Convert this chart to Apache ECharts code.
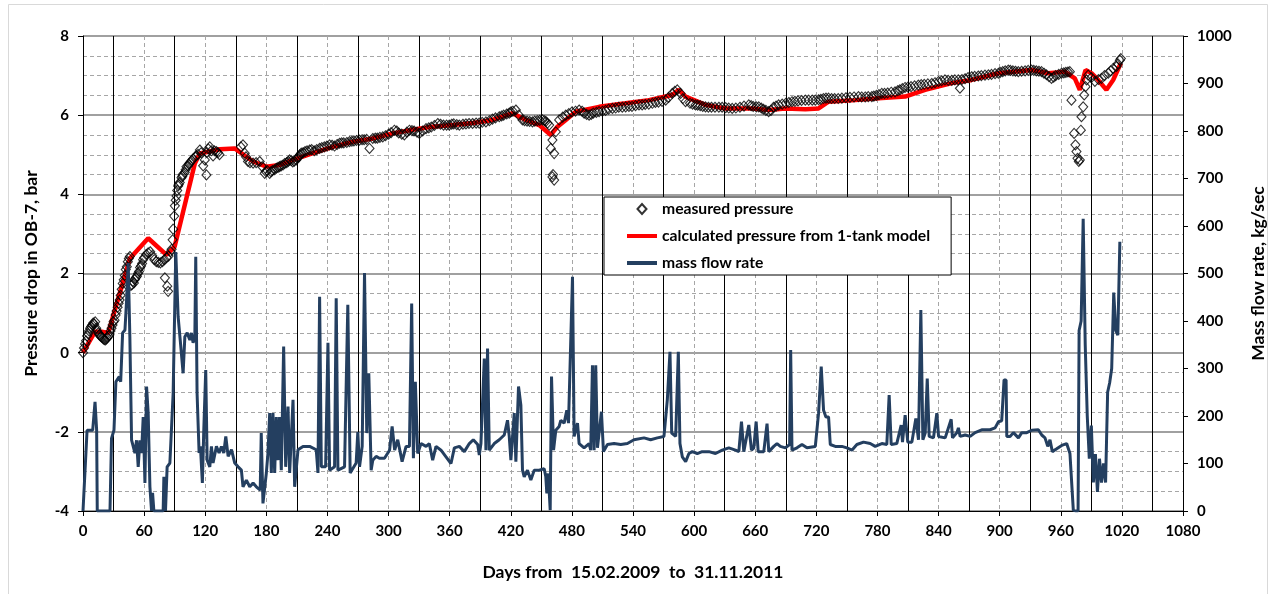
<!DOCTYPE html>
<html style="height: 100%">
<head>
<meta charset="utf-8">
<title>OB-7 pressure drop</title>
</head>
<body style="height: 100%; margin: 0; background: #fff">
<div id="container" style="width:1275px;height:594px"></div>
<script type="text/javascript" src="https://cdn.jsdelivr.net/npm/echarts@6/dist/echarts.min.js"></script>
<script type="text/javascript">
// [day, bar]
var measured = [
[0,0],[1,0.12],[2,0.22],[3,0.3],[4,0.42],[5,0.48],[6,0.55],[7,0.62],[8,0.66],[9,0.7],[10,0.75],[11,0.72],[12,0.78],
[13,0.62],[14,0.55],[15,0.5],[16,0.45],[17,0.42],[18,0.4],[19,0.38],[20,0.35],[21,0.33],[22,0.32],[23,0.35],[24,0.38],
[25,0.42],[26,0.45],[27,0.55],[28,0.62],[29,0.7],[30,0.78],[31,0.82],[32,0.95],[33,1.05],[34,1.15],[35,1.25],[36,1.33],
[37,1.45],[38,1.6],[39,1.75],[40,1.84],[41,1.95],[42,2.1],[43,2.17],[44,2.3],[45,2.38],[46,2.43],[47,1.7],[48,1.72],
[49,1.8],[50,1.76],[51,1.85],[52,1.9],[53,1.93],[54,2.0],[55,2.05],[56,2.15],[57,2.19],[58,2.25],[59,2.35],[60,2.4],
[62,2.48],[64,2.52],[66,2.55],[68,2.45],[70,2.35],[72,2.3],[74,2.28],[76,2.27],[78,2.3],[80,2.35],[80.4,1.89],[82,2.4],
[82.7,1.68],[83.6,1.55],[84,2.44],[86,2.55],[87,2.61],[88,2.85],[88.5,3.12],[89.5,3.45],[90.2,3.71],[91,3.85],[91.8,3.96],
[92.5,4.1],[93.4,4.21],[94,4.25],[95,4.3],[96.7,4.42],[97.5,4.46],[98,4.5],[99.9,4.55],[100.8,4.62],[101.6,4.7],
[103.2,4.72],[104,4.76],[105,4.8],[106.5,4.85],[108,4.89],[110,4.95],[111.5,4.98],[113,5.01],[114.7,5.12],[116,5.05],
[118,4.72],[119.6,4.87],[121.2,4.49],[121.5,5.06],[123,5.15],[124.5,5.2],[126,5.1],[127.7,4.97],[129,5.1],[131,5.08],
[132.5,5.05],[134,5.0],
[155,5.2],[157.1,5.25],[158.8,5.04],[160,4.95],[162,4.83],[164,4.8],[167,4.79],[170,4.8],[173.5,4.83],[176,4.7],
[178.4,4.53],[179.5,4.58],[181,4.6],[183.3,4.53],[184.5,4.57],[186,4.6],[188,4.62],[189.8,4.66],[191.5,4.68],[193,4.7],
[194.5,4.72],[196.4,4.74],[198,4.78],[200,4.8],[201.5,4.83],[202.9,4.87],[204.5,4.85],[206,4.82],[207.5,4.84],[209.4,4.87],
[210.5,4.92],[212,4.95],[213,5.0],[214.3,5.04],[216,5.05],[218,5.08],[220,5.1],[222.5,5.12],[224.5,5.13],[227,5.1],
[229.5,5.13],[232.3,5.16],[234.5,5.18],[237,5.2],[239.5,5.22],[242.1,5.25],[244.5,5.24],[247,5.22],[249.5,5.26],
[251.9,5.29],[254,5.3],[256,5.3],[259,5.31],[261.7,5.33],[264,5.34],[266,5.35],[268.5,5.36],[271.5,5.37],[274,5.38],
[276,5.38],[278.5,5.39],[281.3,5.16],[284.5,5.41],[287,5.42],[289,5.42],[291.5,5.44],[294.3,5.45],[297,5.48],[300,5.52],
[302.5,5.56],[305.7,5.62],[308,5.6],[310,5.55],[313,5.52],[315.5,5.5],[318,5.57],[320.5,5.62],[323,5.61],[325,5.6],
[328,5.57],[330.3,5.54],[333.5,5.6],[336.8,5.66],[339.5,5.68],[342,5.7],[345,5.74],[348.3,5.79],[351,5.77],[354,5.75],
[357,5.75],[359.6,5.75],[362,5.77],[364,5.78],[367,5.76],[369.5,5.75],[373,5.77],[376,5.78],[379,5.79],[382.5,5.79],
[386,5.8],[389,5.8],[392,5.82],[395.6,5.83],[399,5.86],[402,5.9],[405,5.93],[408.7,5.96],[411,5.98],[413,6.0],[416,6.03],
[418.5,6.05],[420,6.08],[422,6.1],[425,6.13],[428,6.0],[431.5,5.88],[433.5,5.86],[436,5.85],[438.5,5.84],[441.3,5.83],
[443.5,5.85],[446,5.86],[448.5,5.87],[451.1,5.88],[453,5.86],[454.4,5.84],[456,5.8],[457.7,5.75],[459.3,5.16],
[460.9,5.37],[460.9,4.44],[461.5,4.5],[462.6,4.36],[462.6,5.03],[464.2,5.58],[467.5,5.88],[471,5.95],[474,6.0],
[477,6.04],[480,6.08],[483.5,6.1],[487.1,6.13],[490,6.1],[492,6.05],[494.5,6.02],[496.9,6.0],[499,6.02],[501,6.05],
[504,6.07],[506.7,6.09],[510,6.1],[513,6.12],[516,6.15],[519.8,6.17],[523,6.18],[526,6.2],[529.5,6.2],[532.8,6.21],
[536,6.22],[539,6.22],[542.5,6.24],[545.9,6.26],[549,6.26],[552,6.27],[555.5,6.28],[559,6.3],[562,6.32],[565,6.33],
[568.5,6.35],[572.1,6.38],[575,6.45],[578.6,6.55],[581,6.6],[583.5,6.64],[586.7,6.55],[589,6.42],[591.6,6.34],[596,6.3],
[598.5,6.28],[601.4,6.26],[603.5,6.25],[606,6.24],[608.5,6.22],[611.2,6.21],[614,6.2],[617,6.2],[620.5,6.2],[624.3,6.2],
[627.5,6.2],[631,6.19],[634,6.18],[637.4,6.17],[641,6.18],[645,6.2],[649,6.23],[653.7,6.26],[656,6.24],[658,6.22],
[661,6.21],[663.5,6.21],[666,6.18],[668,6.15],[670.5,6.12],[673.2,6.09],[675.5,6.12],[678,6.2],[680.5,6.23],[683,6.26],
[686.5,6.28],[690,6.3],[693,6.32],[696.1,6.34],[699,6.35],[702,6.36],[705.5,6.37],[709.2,6.38],[712.5,6.38],[716,6.38],
[719,6.38],[722.2,6.39],[724.5,6.4],[727,6.42],[729.5,6.43],[732,6.43],[735,6.42],[738,6.42],[741.5,6.42],[745.1,6.43],
[749,6.44],[753,6.45],[757,6.46],[761.4,6.47],[764.5,6.46],[768,6.46],[771,6.47],[774.5,6.47],[776.5,6.48],[779,6.5],
[781.5,6.52],[784.3,6.55],[787,6.55],[790,6.56],[793.5,6.58],[797.3,6.59],[800,6.62],[802,6.64],[804.5,6.67],[807.1,6.7],
[810,6.71],[813,6.72],[816.5,6.74],[820.2,6.76],[823,6.77],[826,6.78],[829.5,6.79],[833.3,6.8],[836.5,6.82],[840,6.85],
[843,6.87],[846.3,6.89],[849.5,6.88],[853,6.88],[856,6.89],[859.4,6.89],[861,6.68],[863,6.9],[866,6.92],[869,6.95],
[872.5,6.97],[875.5,6.98],[879,6.99],[882,7.0],[885.6,7.01],[889,7.02],[892,7.03],[895.5,7.05],[898.7,7.06],[900.5,7.08],
[903,7.1],[905.5,7.12],[908.5,7.14],[910.5,7.13],[913,7.12],[915.5,7.11],[918.3,7.1],[921.5,7.11],[925,7.12],[928,7.13],
[931.3,7.14],[933.5,7.13],[936,7.12],[938.5,7.11],[941.1,7.1],[943.5,7.06],[946,7.02],[948.5,6.97],[950.9,6.93],
[953,6.96],[955,7.0],[958,7.03],[960.7,7.06],[963,7.07],[965,7.08],[967,7.09],[968.9,7.1],[970.5,6.38],[973.1,5.54],
[974.4,5.25],[975.4,5.08],[976.4,4.91],[977.7,4.83],[978.7,4.87],[979.7,5.62],[980.3,5.96],[982,6.21],[983,6.51],
[984.3,6.72],[985.3,6.89],[986.9,7.01],[990,6.95],[993.5,6.85],[997,6.9],[1000,6.93],[1003,7.0],[1006.6,7.06],
[1009,7.12],[1011.4,7.18],[1014.7,7.23],[1016,7.3],[1018,7.39],[1019,7.43]
];

// [day, bar]
var calculated = [
[0,0],[11.8,0.53],[18.3,0.53],[24.8,0.5],[46,2.38],[64,2.89],[82,2.47],[90,2.68],[109.8,4.78],[114.7,5.03],
[134.3,5.14],[149,5.16],[160.4,4.95],[167,4.83],[180,4.7],[193,4.74],[206.2,4.87],[225.8,5.04],[245.4,5.2],[265,5.33],
[284.5,5.41],[304.1,5.54],[323.7,5.63],[343.3,5.71],[362.9,5.75],[382.5,5.8],[402.1,5.88],[421.7,6.05],[434.8,5.88],
[447.9,5.75],[459.3,5.5],[465.8,5.71],[474,5.88],[483.8,6.09],[506.7,6.21],[532.8,6.3],[555.7,6.38],[578.5,6.51],
[585,6.64],[591.6,6.47],[611.2,6.26],[630.8,6.17],[656.9,6.17],[673.2,6.13],[689.6,6.17],[709.2,6.15],[722.2,6.17],
[732,6.34],[758.2,6.38],[781,6.43],[807.2,6.47],[826.8,6.64],[852.9,6.81],[872.5,6.89],[898.7,7.06],[931.3,7.14],
[947.6,7.06],[964,7.1],[973.8,6.93],[978.7,6.64],[984.3,7.14],[990.1,7.06],[996.7,6.89],[1004.8,6.64],[1011.4,6.89],
[1018.9,7.31]
];

// [day, kg/sec]
var massFlow = [
[0,0],[4,170],[9.5,170],[11.8,230],[13.4,170],[14,0],[26.5,0],[28,153],[30.4,170],[32.3,272],[35.6,283],[37,272],
[38.9,375],[41.2,381],[42.8,444],[44.4,522],[46,367],[47.7,149],[49.3,149],[51,122],[52.6,149],[54.2,93],[55.9,149],
[57.5,122],[59.1,198],[60.8,59],[62.4,262],[64,206],[65.7,51],[67.3,0],[68.3,38],[69.6,0],[78.7,0],[79.4,72],[81,0],
[82.6,93],[85.3,101],[88.5,248],[91.1,545],[93.4,409],[95.7,354],[98.3,290],[100,367],[102.3,375],[104.9,360],
[106.5,375],[108.1,354],[109.8,367],[110.7,535],[112,248],[114,122],[115.3,136],[117.2,59],[118.5,164],[120.5,297],
[121.9,107],[124.5,93],[126.1,136],[127.7,101],[131,136],[133.6,122],[135.9,136],[138.2,122],[140.2,157],[142.5,115],
[145.8,129],[149,101],[152.3,93],[155.5,86],[157.1,51],[160.4,65],[163.7,51],[167,59],[170.2,51],[174,44],[175,164],
[176.7,16],[180,80],[181.6,122],[183.3,206],[184.9,80],[186.5,206],[188.2,80],[189.8,198],[191.4,107],[193,198],
[194.7,86],[197,346],[199,93],[201.3,220],[202.9,80],[206.2,234],[207.8,51],[211.1,129],[216,136],[222.5,136],[229,129],
[230.7,80],[232.3,451],[234,93],[238.2,93],[240.5,354],[242.1,86],[247,93],[248.6,448],[250.3,86],[256.8,93],[260,434],
[262.3,80],[268.2,101],[269.8,166],[271.5,93],[274.1,136],[276.4,501],[278.6,164],[280.6,290],[282.9,86],[284.5,107],
[287.8,115],[291,111],[296,111],[301,128],[303.5,178],[306,128],[309,150],[313.3,104],[317.2,136],[320.5,136],
[322.7,437],[324.4,111],[326.3,272],[328.6,121],[331.9,142],[336.8,136],[340,142],[343.3,107],[346.6,136],[351.5,128],
[356.4,114],[361.3,100],[364.6,133],[369.5,136],[374.4,125],[379.3,142],[383.2,150],[387.5,140],[389.1,118],[390.7,142],
[394,321],[395.6,128],[397.2,342],[398.9,128],[403.8,142],[408.7,150],[413.6,160],[416.8,191],[418.5,157],[420.1,107],
[421.7,104],[423.4,206],[425,104],[427.6,262],[429.9,223],[431.5,86],[433.2,72],[436.4,86],[439.7,65],[443,86],
[447.9,86],[452.8,89],[454.4,72],[455.4,37],[456.8,79],[458.7,2],[460,283],[462,128],[464.2,170],[467.5,178],[469.1,191],
[472.4,185],[475,212],[476.7,185],[480.6,493],[482.2,157],[485.5,185],[487.1,142],[492,133],[496.9,142],[498.5,128],
[500.2,307],[501.8,128],[503.4,307],[505.1,133],[509,209],[511,125],[514.9,140],[521.4,142],[528,140],[534.5,142],
[541,150],[550.8,154],[557.3,150],[563.9,154],[570.4,157],[573.7,234],[576.3,335],[578,164],[581.9,157],[584.5,335],
[586.1,142],[588.4,114],[591.7,104],[594.9,121],[598.2,125],[603.1,121],[607.9,125],[614.5,125],[621,121],[627.6,128],
[634.1,133],[640.6,128],[643.9,125],[646.5,188],[648.8,125],[650.4,128],[653.7,181],[656.3,128],[658.6,133],[660.9,188],
[662.9,125],[668.4,125],[671.6,184],[673.3,125],[678.2,136],[681.4,142],[684.7,136],[689.6,133],[693.8,140],[694.8,339],
[696.1,128],[701,133],[705.9,140],[710.8,133],[719,136],[722.2,206],[724.8,304],[727.1,212],[729.4,198],[732,198],
[733.7,140],[738.6,136],[745.1,136],[750,133],[754.9,128],[759.8,140],[766.3,145],[772.9,142],[777.8,136],[784.3,142],
[789.2,140],[791.5,244],[793.5,140],[799,142],[803.3,181],[804.6,145],[807.2,202],[809.8,145],[813.8,145],[817.7,195],
[820.3,150],[822.6,423],[824.6,150],[826.9,164],[828.9,279],[830.8,157],[835,154],[838.3,206],[840,157],[846.5,154],
[852.4,193],[853.7,154],[858,165],[859.5,175],[861.2,157],[866.1,160],[871,157],[875.9,165],[882.4,171],[890.6,171],
[895.5,175],[898.8,188],[902,190],[904.3,276],[906.3,276],[907,157],[910.2,157],[913.5,165],[918.4,154],[921.7,165],
[926.6,165],[931.5,170],[938,171],[941.3,160],[944.5,154],[947.2,136],[949.4,150],[951.7,125],[956,131],[960.9,138],
[965.8,142],[969,121],[970.7,121],[972.3,2],[975,0],[977,0],[978,380],[980,400],[982,615],[984,350],[986,200],[988,110],
[990,180],[992,60],[994,120],[996,40],[998,110],[1000,60],[1002,100],[1004,60],[1006,250],[1008,270],[1010,300],
[1012,460],[1014,380],[1016,370],[1018,567]
];

var dom = document.getElementById('container');
var myChart = echarts.init(dom);
var font = 'Lato';
var plain = function (v) { return String(v); };
var labelStyle = { color: '#000', fontFamily: font, fontWeight: 'bold', fontSize: 15, formatter: plain };
var nameStyle = { color: '#000', fontFamily: font, fontWeight: 'bold', fontSize: 17.5 };
// legend icons: a 30x4 bar for the lines, a small diamond centred in a 30x10 box
var lineIcon = 'path://M0,0L30,0L30,4L0,4Z';
var diamondIcon = 'path://M0,5L0,5M10.5,5L15,0L19.5,5L15,10ZM30,5L30,5';

var option = {
    animation: false,
    backgroundColor: '#fff',
    graphic: [{
        type: 'rect',
        shape: { x: 8.5, y: 4.5, width: 1259, height: 600 },
        style: { fill: 'none', stroke: '#d9d9d9', lineWidth: 1 },
        silent: true,
        z: -10
    }],
    grid: { left: 83, right: 90, top: 36, bottom: 83 },
    legend: {
        orient: 'vertical',
        left: 604,
        top: 197,
        padding: [4, 21, 4, 22],
        itemWidth: 30,
        itemHeight: 10,
        itemGap: 11,
        backgroundColor: '#fff',
        borderColor: '#000',
        borderWidth: 1,
        textStyle: { color: '#000', fontFamily: font, fontWeight: 'bold', fontSize: 15.7 },
        data: [
            { name: 'measured pressure', icon: diamondIcon },
            { name: 'calculated pressure from 1-tank model', icon: lineIcon },
            { name: 'mass flow rate', icon: lineIcon }
        ]
    },
    xAxis: {
        type: 'value',
        min: 0,
        max: 1080,
        interval: 60,
        name: 'Days from  15.02.2009  to  31.11.2011',
        nameLocation: 'middle',
        nameGap: 52,
        nameTextStyle: nameStyle,
        axisLine: { show: true, onZero: false, lineStyle: { color: '#000', width: 1 } },
        axisTick: { show: true, length: 5, lineStyle: { color: '#000' } },
        axisLabel: Object.assign({ margin: 13 }, labelStyle),
        splitLine: { show: true, lineStyle: { color: '#a6a6a6', type: [4, 3], width: 1 } },
        minorTick: { show: false, splitNumber: 2 },
        minorSplitLine: { show: true, lineStyle: { color: '#000', width: 1 } }
    },
    yAxis: [{
        type: 'value',
        min: -4,
        max: 8,
        interval: 2,
        name: 'Pressure drop in OB-7, bar',
        nameLocation: 'middle',
        nameGap: 43,
        nameRotate: 90,
        nameTextStyle: nameStyle,
        axisLine: { show: true, onZero: false, lineStyle: { color: '#000', width: 1 } },
        axisTick: { show: true, length: 5, lineStyle: { color: '#000' } },
        axisLabel: Object.assign({ margin: 14 }, labelStyle),
        splitLine: { show: true, lineStyle: { color: '#808080', width: 1.5 } },
        minorTick: { show: false, splitNumber: 4 },
        minorSplitLine: { show: true, lineStyle: { color: '#a6a6a6', type: [4, 3], width: 1 } }
    }, {
        type: 'value',
        position: 'right',
        min: 0,
        max: 1000,
        interval: 100,
        name: 'Mass flow rate, kg/sec',
        nameLocation: 'middle',
        nameGap: 66,
        nameRotate: 90,
        nameTextStyle: nameStyle,
        axisLine: { show: true, onZero: false, lineStyle: { color: '#000', width: 1 } },
        axisTick: { show: true, length: 5, lineStyle: { color: '#000' } },
        axisLabel: Object.assign({ margin: 14 }, labelStyle),
        splitLine: { show: false }
    }],
    series: [{
        name: 'calculated pressure from 1-tank model',
        type: 'line',
        yAxisIndex: 0,
        data: calculated,
        symbol: 'none',
        lineStyle: { color: '#ff0000', width: 4.5 },
        itemStyle: { color: '#ff0000' },
        z: 2
    }, {
        name: 'measured pressure',
        type: 'scatter',
        yAxisIndex: 0,
        data: measured,
        symbol: 'diamond',
        symbolSize: [9, 10],
        itemStyle: { color: 'rgba(255,255,255,0)', borderColor: '#000', borderWidth: 1.1 },
        z: 3
    }, {
        name: 'mass flow rate',
        type: 'line',
        yAxisIndex: 1,
        data: massFlow,
        symbol: 'none',
        lineStyle: { color: '#243f60', width: 3 },
        itemStyle: { color: '#243f60' },
        z: 4
    }]
};
myChart.setOption(option);
</script>
</body>
</html>
